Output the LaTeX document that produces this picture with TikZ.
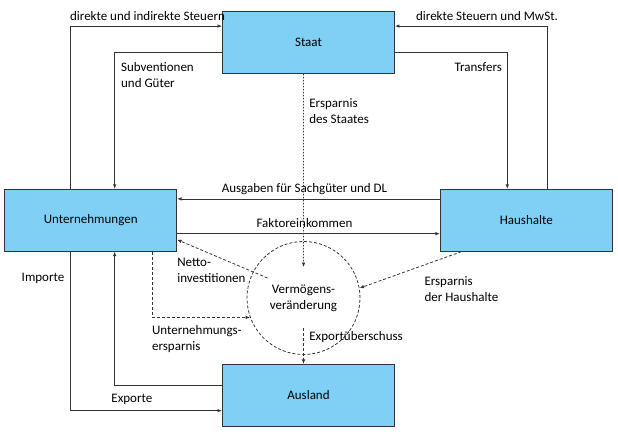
\documentclass[tikz,border=0pt]{standalone}
\usepackage{fontspec}
\setmainfont{Carlito}
\usetikzlibrary{arrows.meta, calc, positioning}
\definecolor{sectorblue}{RGB}{128,207,245}
\tikzstyle{sector}=[rectangle, draw=black!80, fill=sectorblue, align=center,
   minimum width=172bp, minimum height=62bp, line width=0.8pt]
\tikzstyle{flow}=[-{Latex[length=4.5bp,width=3.5bp]}, draw=black!80, line width=0.8pt]
\tikzstyle{saving_flow}=[flow, dash pattern=on 3bp off 2bp]
\tikzstyle{state_saving}=[flow, dash pattern=on 1.5bp off 1.5bp]
\tikzstyle{wealth}=[circle, draw=black!80, line width=0.8pt, dash pattern=on 3bp off 2bp,
   minimum size=113bp, inner sep=0, align=center]
\tikzstyle{flow_label}=[align=left, inner sep=3bp]

\begin{document}
\begin{tikzpicture}[x=1bp, y=-1bp, font=\fontsize{13bp}{16bp}\selectfont]
\useasboundingbox (0,0) rectangle (618,435);

% sectors
\node [sector] (sector_staat)      at (308.5,42.5)                              {Staat};
\node [sector] (sector_firms)      [below left=115bp and 45bp of sector_staat]  {Unternehmungen};
\node [sector] (sector_households) [below right=115bp and 45bp of sector_staat] {Haushalte};
\node [sector] (sector_abroad)     [below=290bp of sector_staat]                {Ausland};

% wealth change
\node [wealth] (wealth_change) at (303.5,298) {Vermögens-\\veränderung};
\coordinate (staat_saving_end) at ($(wealth_change.north)+(0,26)$);
\coordinate (export_start)     at ($(wealth_change.south)+(0,-27)$);
\coordinate (invest_start)     at ($(wealth_change.center)+(-36,-20)$);

% taxes and transfers
\draw[flow] ([xshift=-20bp]sector_firms.north) |- ([yshift=-15bp]sector_staat.north west)
    node[pos=0.5, flow_label, anchor=south west, xshift=-4bp, yshift=2bp] {direkte und indirekte Steuern};
\draw[flow] ([xshift=21bp]sector_households.north) |- ([yshift=-15bp]sector_staat.north east)
    node[pos=0.5, flow_label, anchor=south east, xshift=14bp, yshift=2bp] {direkte Steuern und MwSt.};
\draw[flow] ([yshift=-10bp]sector_staat.west) -| ([xshift=24bp]sector_firms.north)
    node[pos=0.5, flow_label, anchor=north west, xshift=3bp, yshift=-7bp] {Subventionen\\und Güter};
\draw[flow] ([yshift=-10bp]sector_staat.east) -| ([xshift=-19bp]sector_households.north)
    node[pos=0.5, flow_label, anchor=north east, xshift=-2bp, yshift=-6.5bp] {Transfers};

% goods and income
\draw[flow] ([yshift=-10bp]sector_households.north west) -- ([yshift=-10bp]sector_firms.north east)
    node[midway, above, xshift=-4bp] {Ausgaben für Sachgüter und DL};
\draw[flow] ([yshift=18bp]sector_firms.south east) -- ([yshift=18bp]sector_households.south west)
    node[midway, above, xshift=-4bp, yshift=2bp] {Faktoreinkommen};

% savings
\draw[state_saving] ([xshift=-5bp]sector_staat.south) -- (staat_saving_end)
    node[pos=0.19, flow_label, anchor=west, xshift=2.5bp] {Ersparnis\\des Staates};
\draw[saving_flow] (invest_start) -- ([yshift=12bp]sector_firms.south east);
\node [flow_label, anchor=north west] (invest_label)
    at ([xshift=-3bp,yshift=-3.5bp]sector_firms.south east) {Netto-\\investitionen};
\draw[saving_flow] ([xshift=62bp]sector_firms.south) |- (wealth_change.200)
    node[pos=0.5, flow_label, anchor=north west, xshift=-4bp, yshift=-4.7bp] {Unternehmungs-\\ersparnis};
\draw[saving_flow] ([xshift=-65bp]sector_households.south) -- (wealth_change.10);
\node [flow_label, anchor=north west] (household_saving_label)
    at ([xshift=-105bp,yshift=-21.5bp]sector_households.south) {Ersparnis\\der Haushalte};
\draw[saving_flow] (export_start) -- (export_start |- sector_abroad.north)
    node[pos=0.24, flow_label, anchor=west, xshift=2.5bp] {Exportüberschuss};

% foreign trade
\draw[flow] ([xshift=-20bp]sector_firms.south) |- ([yshift=16bp]sector_abroad.south west)
    node[pos=0.083, flow_label, anchor=east, xshift=-3bp] {Importe};
\draw[flow] ([yshift=-21bp]sector_abroad.north west) -| ([xshift=24bp]sector_firms.south)
    node[pos=0.42, flow_label, anchor=north, yshift=-5.5bp] {Exporte};

\end{tikzpicture}
\end{document}
